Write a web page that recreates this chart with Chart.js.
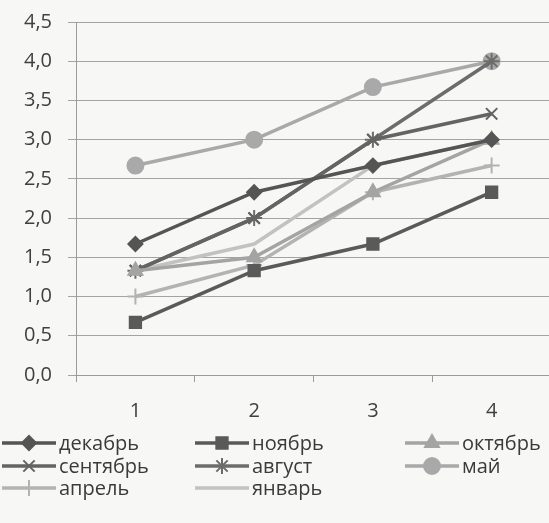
<!DOCTYPE html>
<html>
<head>
<meta charset="utf-8">
<script src="https://cdn.jsdelivr.net/npm/chart.js@4/dist/chart.umd.min.js"></script>
<style>
  html, body { margin: 0; padding: 0; background: #f7f7f5; overflow: hidden; }
  #wrap { width: 562px; height: 523px; }
</style>
</head>
<body>
<div id="wrap"><canvas id="grafico"></canvas></div>
<script>
// datos
const categorias = ["1", "2", "3", "4"];
const yTicks = [0, 0.5, 1, 1.5, 2, 2.5, 3, 3.5, 4, 4.5];

const dekabr = [1.67, 2.33, 2.67, 3.0];
const noyabr = [0.67, 1.33, 1.67, 2.33];
const oktyabr = [1.33, 1.5, 2.33, 3.0];
const sentyabr = [1.33, 2.0, 3.0, 3.33];
const avgust = [1.33, 2.0, 3.0, 4.0];
const mai = [2.67, 3.0, 3.67, 4.0];
const aprel = [1.0, 1.4, 2.33, 2.67];
const yanvar = [1.33, 1.67, 2.67, 3.0];

function serie(label, data, color, style, radius) {
  return {
    label: label,
    data: data,
    borderColor: color,
    backgroundColor: color,
    pointBackgroundColor: color,
    pointBorderColor: color,
    borderWidth: 3.5,
    pointStyle: style,
    pointRadius: radius,
    pointBorderWidth: 2,
    tension: 0,
  };
}

const datasets = [
  serie("декабрь", dekabr, "#555555", "rectRot", 7),
  serie("ноябрь", noyabr, "#5a5a5a", "rect", 8),
  serie("октябрь", oktyabr, "#a4a4a4", "triangle", 8),
  serie("сентябрь", sentyabr, "#646464", "crossRot", 8),
  serie("август", avgust, "#6c6c6c", "star", 8),
  serie("май", mai, "#a9a9a9", "circle", 8),
  serie("апрель", aprel, "#b3b3b3", "cross", 8),
  serie("январь", yanvar, "#c2c2c2", false, 0),
];

// leyenda a mano, 3 columnas como en excel
const leyendaPlugin = {
  id: "leyenda",
  afterDraw(chart) {
    const ctx = chart.ctx;
    const colX = [2, 195, 405];
    const rowY = [443, 466, 488];
    chart.data.datasets.forEach(function (ds, i) {
      const x = colX[i % 3];
      const y = rowY[Math.floor(i / 3)];
      ctx.save();
      ctx.strokeStyle = ds.borderColor;
      ctx.fillStyle = ds.borderColor;
      ctx.lineWidth = 3.5;
      ctx.beginPath();
      ctx.moveTo(x, y);
      ctx.lineTo(x + 54, y);
      ctx.stroke();
      if (ds.pointStyle) {
        ctx.lineWidth = 2;
        Chart.helpers.drawPoint(ctx, {
          pointStyle: ds.pointStyle,
          radius: ds.pointRadius,
          borderWidth: 2,
          rotation: 0,
        }, x + 27, y);
      }
      ctx.fillStyle = "#3a3a3a";
      ctx.font = "20px 'Open Sans'";
      ctx.textBaseline = "middle";
      ctx.fillText(ds.label, x + 57, y + 1);
      ctx.restore();
    });
  },
};

new Chart(document.getElementById("grafico"), {
  type: "line",
  data: { labels: categorias, datasets: datasets },
  options: {
    responsive: true,
    maintainAspectRatio: false,
    animation: false,
    layout: { padding: { top: 22, left: 8, right: 11, bottom: 83 } },
    plugins: { legend: { display: false }, tooltip: { enabled: false } },
    scales: {
      x: {
        offset: true,
        grid: { offset: true, drawOnChartArea: false, color: "#9a9a9a", tickLength: 7 },
        border: { color: "#9a9a9a" },
        ticks: { color: "#404040", font: { family: "Open Sans", size: 20 }, padding: 17 },
      },
      y: {
        min: 0,
        max: 4.5,
        afterBuildTicks(axis) {
          axis.ticks = yTicks.map((v) => ({ value: v }));
        },
        afterFit(axis) {
          axis.paddingTop = 0;
        },
        grid: { color: "#a3a3a3", tickLength: 8 },
        border: { color: "#9a9a9a" },
        ticks: {
          color: "#404040",
          font: { family: "Open Sans", size: 20 },
          padding: 16,
          callback: (v) => v.toFixed(1).replace(".", ","),
        },
      },
    },
  },
  plugins: [leyendaPlugin],
});
</script>
</body>
</html>
